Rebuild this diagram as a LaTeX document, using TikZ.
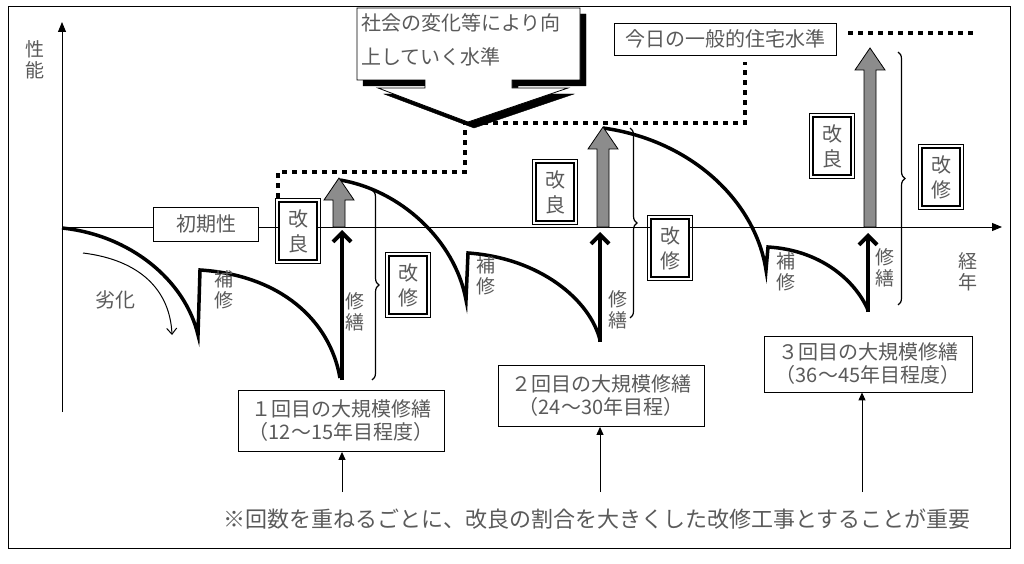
\documentclass[tikz,border=0pt]{standalone}
\usepackage{fontspec}
\setmainfont{Noto Sans CJK JP}
\usetikzlibrary{arrows.meta,decorations.pathreplacing,positioning}
\definecolor{txtgray}{RGB}{90,90,90}
\definecolor{arrgray}{RGB}{140,140,140}
\tikzset{
  lbl/.style={text=txtgray, font=\fontsize{20}{23}\selectfont, inner sep=1pt},
  vlbl/.style={lbl, align=center, text width=22pt, font=\fontsize{19}{21}\selectfont},
  box/.style={draw, line width=0.8pt, fill=white, lbl, inner sep=3pt},
  dbox/.style={draw, line width=1.2pt, fill=white, lbl, align=center, minimum width=38pt, minimum height=58pt, inner sep=3pt, font=\fontsize{20}{25}\selectfont},
  curve/.style={line width=3.5pt},
  repair/.style={line width=4pt, -{Straight Barb[length=9pt,width=18pt,line width=4pt]}},
  level/.style={line width=4pt, dash pattern=on 5pt off 5pt},
  pointer/.style={line width=1pt, -{Triangle[length=8pt,width=7pt]}},
  brc/.style={decorate, decoration={brace, amplitude=7pt}, line width=1.2pt}
}
% gray arrow: x, tip y, base y
\newcommand{\grayarrow}[3]{%
  \filldraw[fill=arrgray, line width=0.8pt] (#1-6,#3) -- (#1-6,#2+22) -- (#1-15,#2+22) -- (#1,#2) -- (#1+15,#2+22) -- (#1+6,#2+22) -- (#1+6,#3) -- cycle;}
% double framed box: name, position, text
\newcommand{\dbox}[3]{%
  \node[dbox] (#1) at (#2) {#3};
  \draw[line width=1.2pt] ([shift={(-3pt,-3pt)}]#1.south west) rectangle ([shift={(3pt,3pt)}]#1.north east);}
\begin{document}
\begin{tikzpicture}[x=1pt,y=-1pt]
  \useasboundingbox (0,0) rectangle (1024,564);
  \draw[line width=0.8pt] (8,6) rectangle (1010,548);

  % axes
  \draw[line width=1pt, -{Triangle[length=10pt,width=8pt]}] (62,412) -- (62,22);
  \draw[line width=1pt, -{Triangle[length=10pt,width=8pt]}] (62,227) -- (1002,227);
  \node[vlbl] (perf) at (35,60) {性\\能};
  \node[vlbl] (age) at (968,272) {経\\年};

  % level lines
  \draw[level] (278,198) -- (278,172) -- (465,172) -- (465,123) -- (745,123) -- (745,62);
  \draw[level] (848,33) -- (975,33);

  % degradation curves
  \draw[curve] (62,228) .. controls (130,235) and (185,280) .. (198,335) -- (200,270)
     .. controls (280,275) and (330,320) .. (340,378);
  \draw[curve] (340,180) .. controls (400,190) and (455,240) .. (466,300) -- (468,253)
     .. controls (540,258) and (590,300) .. (600,340);
  \draw[curve] (603,128) .. controls (690,140) and (755,200) .. (766,270) -- (768,247)
     .. controls (820,250) and (855,280) .. (868,310);
  \draw[line width=1pt, -{Straight Barb[length=6pt,width=10pt]}] (83,253) .. controls (140,260) and (170,290) .. (172,335);
  \node[lbl] (deg) at (115,300) {劣化};

  % improvement arrows
  \grayarrow{339}{178}{227}
  \grayarrow{603}{127}{227}
  \grayarrow{870}{48}{227}

  % repair arrows
  \coordinate (r1) at (342,380);
  \coordinate (r2) at (600,342);
  \coordinate (r3) at (868,312);
  \draw[repair] (r1) -- (342,230);
  \draw[repair] (r2) -- (600,232);
  \draw[repair] (r3) -- (868,233);

  % braces
  \draw[brc] (372,190) -- (372,380);
  \draw[brc] (630,128) -- (630,318);
  \draw[brc] (898,52) -- (898,305);

  % labels
  \node[box, minimum width=105pt, minimum height=34pt] (init) at (206,224) {初期性};
  \dbox{imp1}{298,231}{改\\良}
  \dbox{imp2}{555,192}{改\\良}
  \dbox{imp3}{832,146}{改\\良}
  \dbox{ren1}{408,285}{改\\修}
  \dbox{ren2}{670,248}{改\\修}
  \dbox{ren3}{941,177}{改\\修}
  \node[vlbl] (fix1) at (224,290) {補\\修};
  \node[vlbl] (fix2) at (486,276) {補\\修};
  \node[vlbl] (fix3) at (786,272) {補\\修};
  \node[vlbl] (mnt1) at (355,312) {修\\繕};
  \node[vlbl] (mnt2) at (618,310) {修\\繕};
  \node[vlbl] (mnt3) at (885,268) {修\\繕};

  % callouts
  \filldraw[fill=black] (363,14) -- (586,14) -- (586,86) -- (518,86) -- (518,94) -- (574,94) -- (474,128) -- (384,94) -- (431,94) -- (431,86) -- (363,86) -- cycle;
  \filldraw[fill=white, line width=0.8pt] (357,8) -- (580,8) -- (580,80) -- (512,80) -- (512,88) -- (568,88) -- (468,122) -- (378,88) -- (425,88) -- (425,80) -- (357,80) -- cycle;
  \node[lbl, anchor=north west, align=left, font=\fontsize{20}{34}\selectfont] (soc) at (360,12) {社会の変化等により向\\上していく水準};
  \node[box, minimum width=222pt, minimum height=32pt] (today) at (725,39) {今日の一般的住宅水準};

  % major repair notes
  \node[box, align=center, minimum width=206pt, minimum height=61pt] (m1) at (341,421) {１回目の大規模修繕\\（12～15年目程度）};
  \node[box, align=center, minimum width=206pt, minimum height=61pt] (m2) at (601,396) {２回目の大規模修繕\\（24～30年目程）};
  \node[box, align=center, minimum width=208pt, minimum height=56pt] (m3) at (868,364) {３回目の大規模修繕\\（36～45年目程度）};
  \node[lbl, font=\fontsize{22}{24}\selectfont] (note) at (597,519) {※回数を重ねるごとに、改良の割合を大きくした改修工事とすることが重要};
  \coordinate (n1) at (342,492);
  \coordinate (n2) at (600,492);
  \coordinate (n3) at (862,492);
  \draw[pointer] (n1) -- (m1.south -| n1);
  \draw[pointer] (n2) -- (m2.south -| n2);
  \draw[pointer] (n3) -- (m3.south -| n3);
\end{tikzpicture}
\end{document}
